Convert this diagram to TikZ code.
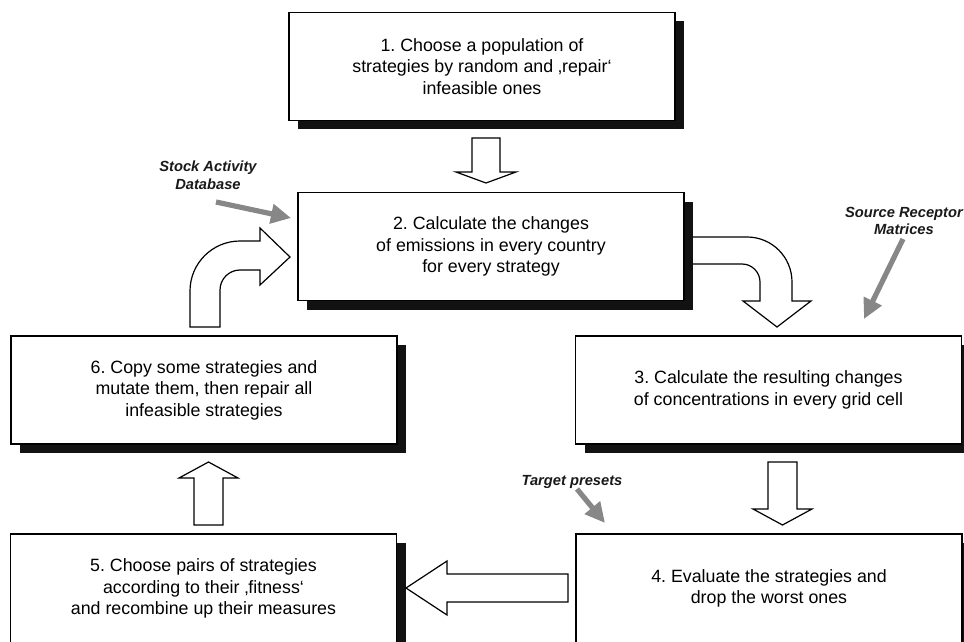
\documentclass[tikz,border=0pt]{standalone}
\usepackage{fontspec}
\setmainfont{Liberation Sans}
\usetikzlibrary{arrows.meta,shadows}
\frenchspacing

\begin{document}
\begin{tikzpicture}[
  x=0.5pt, y=-0.5pt,
  >=Stealth,
  stepbox/.style={draw=black, line width=0.7pt, fill=white, minimum width=193pt, minimum height=54pt, align=center, font=\fontsize{8.9}{10.8}\selectfont, drop shadow={shadow xshift=4.5pt, shadow yshift=-4.5pt, fill=black!93, opacity=1}},
  fatarrow/.style={draw=black, line width=0.6pt, fill=white, line join=miter},
  source/.style={align=center, text=black!90, font=\fontsize{7.35}{8.8}\selectfont\bfseries\itshape},
  feed/.style={-{Triangle[length=10pt,width=9.5pt]}, draw=black!47, line width=2.6pt}
]
  \useasboundingbox (0,0) rectangle (964,642);
  \clip (0,0) rectangle (964,642);

  \node[stepbox] (init) at (482,66.5) {1. Choose a population of\\strategies by random and ‚repair‘\\infeasible ones};
  \node[stepbox] (emis) at (491,246.5) {2. Calculate the changes\\of emissions in every country\\for every strategy};
  \node[stepbox] (conc) at (768.5,390) {3. Calculate the resulting changes\\of concentrations in every grid cell};
  \node[stepbox, minimum height=54.5pt] (eval) at (769,588.5) {4. Evaluate the strategies and\\drop the worst ones};
  \node[stepbox, minimum height=54.5pt] (select) at (203.5,588.5) {5. Choose pairs of strategies\\according to their ‚fitness‘\\and recombine up their measures};
  \node[stepbox] (mutate) at (204,390) {6. Copy some strategies and\\mutate them, then repair all\\infeasible strategies};

  % block arrows of the loop
  \draw[fatarrow] (472,138) -- (500,138) -- (500,172) -- (516,172) -- (486,183) -- (456,172) -- (472,172) -- cycle;
  \draw[fatarrow] (693,264) -- (742,264) .. controls (751.9,264) and (760,272.1) .. (760,282) -- (760,301) -- (743,301) -- (777,327) -- (811,301) -- (792,301) -- (792,282) .. controls (792,257.1) and (771.9,237) .. (747,237) -- (693,237);
  \draw[fatarrow] (768,462) -- (797,462) -- (797,509) -- (812,509) -- (782.5,525) -- (753,509) -- (768,509) -- cycle;
  \draw[fatarrow] (568,574) -- (447,574) -- (447,561) -- (406,588) -- (447,615) -- (447,602) -- (568,602) -- cycle;
  \draw[fatarrow] (194,525) -- (194,478) -- (179,478) -- (208.5,462) -- (238,478) -- (223,478) -- (223,525) -- cycle;
  \draw[fatarrow] (190,327) -- (190,291) .. controls (190,263.4) and (212.4,241) .. (240,241) -- (260,241) -- (260,228) -- (290,257) -- (260,285) -- (260,270) -- (240,270) .. controls (229,270) and (220,279) .. (220,290) -- (220,327) -- cycle;

  % data sources
  \node[source] (sad) at (208,175.5) {Stock Activity\\Database};
  \node[source] (srm) at (904,221) {Source Receptor\\Matrices};
  \node[source] (tp) at (572,482) {Target presets};
  \coordinate (sadfrom) at (216,202);
  \coordinate (sadto) at (291,218);
  \coordinate (srmfrom) at (903,239);
  \coordinate (srmto) at (864,319);
  \coordinate (tpfrom) at (577,489);
  \coordinate (tpto) at (605,523);
  \foreach \a/\b in {sadfrom/sadto,srmfrom/srmto,tpfrom/tpto}
    \draw[feed] (\a) -- (\b);
\end{tikzpicture}
\end{document}
